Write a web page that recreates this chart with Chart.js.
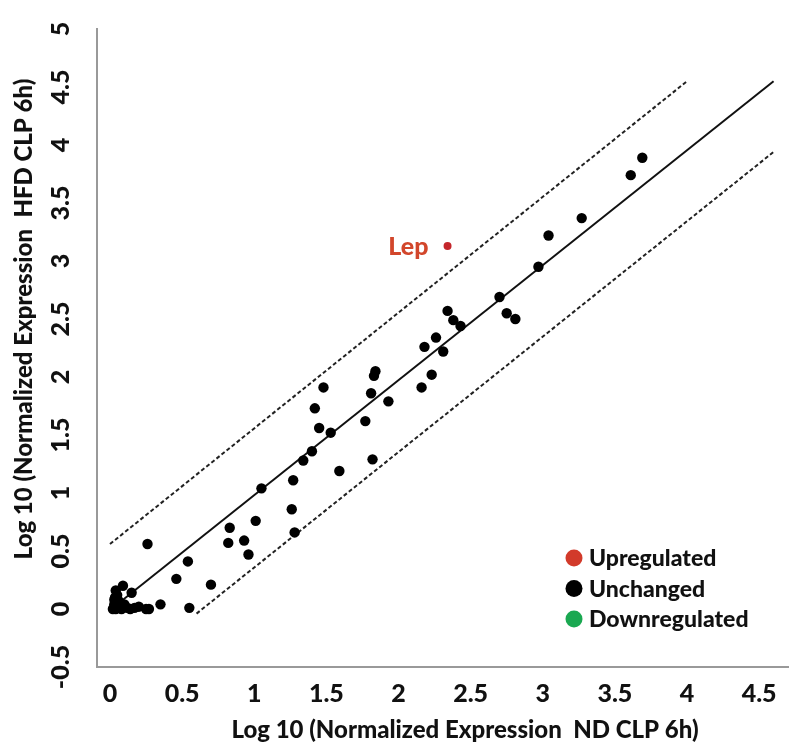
<!DOCTYPE html>
<html>
<head>
<meta charset="utf-8">
<script src="https://cdn.jsdelivr.net/npm/chart.js@4.4.1/dist/chart.umd.min.js"></script>
<style>
  html, body { margin: 0; padding: 0; background: #fff; }
  #wrap { width: 800px; height: 754px; }
</style>
</head>
<body>
<div id="wrap"><canvas id="chart" width="800" height="754"></canvas></div>
<script>
// ===== DATA (log10 normalized expression) =====
const ndUnchanged = [0.09, 0.15, 0.04, 0.035, 0.03, 0.04, 0.08, 0.12, 0.17, 0.20, 0.06,
  0.02, 0.03, 0.05, 0.10, 0.14,
  0.25, 0.27, 0.35, 0.26, 0.46, 0.54, 0.55, 0.70, 0.82, 0.83, 0.93, 0.96, 1.01, 1.05,
  1.26, 1.27, 1.28, 1.34, 1.40, 1.42, 1.45, 1.48, 1.53, 1.59, 1.77, 1.81, 1.82, 1.83,
  1.84, 1.93, 2.16, 2.18, 2.23, 2.26, 2.31, 2.34, 2.38, 2.43, 2.70, 2.75, 2.81, 2.97,
  3.04, 3.27, 3.61, 3.69];
const hfdUnchanged = [0.20, 0.14, 0.16, 0.10, 0.04, 0.00, 0.00, 0.01, 0.01, 0.02, 0.07,
  0.00, 0.08, 0.12, 0.04, 0.00,
  0.00, 0.00, 0.04, 0.56, 0.26, 0.41, 0.01, 0.21, 0.57, 0.70, 0.59, 0.47, 0.76, 1.04,
  0.86, 1.11, 0.66, 1.28, 1.36, 1.73, 1.56, 1.91, 1.52, 1.19, 1.62, 1.86, 1.29, 2.01,
  2.05, 1.79, 1.91, 2.26, 2.02, 2.34, 2.22, 2.57, 2.49, 2.44, 2.69, 2.55, 2.50, 2.95,
  3.22, 3.37, 3.74, 3.89];

const upGenes = ['Lep'];
const ndUp = [2.34];
const hfdUp = [3.13];

const ndDown = [];
const hfdDown = [];

// identity line and 4-fold (0.6 log) thresholds
const identityX = [0.09, 4.60], identityY = [0.08, 4.55];
const upperX = [0.00, 4.00], upperY = [0.56, 4.55];
const lowerX = [0.60, 4.60], lowerY = [-0.04, 3.94];

const xTicks = [0, 0.5, 1, 1.5, 2, 2.5, 3, 3.5, 4, 4.5];
const yTicks = [-0.5, 0, 0.5, 1, 1.5, 2, 2.5, 3, 3.5, 4, 4.5, 5];

const xTitle = 'Log 10 (Normalized Expression  ND CLP 6h)';
const yTitle = 'Log 10 (Normalized Expression  HFD CLP 6h)';

const FONT = 'Lato, "Open Sans", sans-serif';
const W = 900;
const pts = (xs, ys) => xs.map((x, i) => ({ x, y: ys[i] }));

// labels next to highlighted genes, legend, axis titles
const annotate = {
  id: 'annotate',
  afterDatasetsDraw(chart) {
    const { ctx, scales: { x, y } } = chart;
    ctx.save();
    ctx.textBaseline = 'middle';

    // gene names
    ctx.font = W + ' 25px ' + FONT;
    ctx.fillStyle = '#d2462b';
    ctx.textAlign = 'right';
    upGenes.forEach((g, i) => {
      ctx.fillText(g, x.getPixelForValue(ndUp[i]) - 19, y.getPixelForValue(hfdUp[i]) + 1);
    });

    // legend
    ctx.font = W + ' 23px ' + FONT;
    const items = chart.data.datasets.filter(d => d.legendItem);
    ctx.textAlign = 'left';
    items.forEach((d, i) => {
      const lx = 574, ly = 558 + i * 30.5;
      ctx.beginPath();
      ctx.arc(lx, ly, 8.5, 0, Math.PI * 2);
      ctx.fillStyle = d.legendColor;
      ctx.fill();
      ctx.fillStyle = '#111';
      ctx.fillText(d.label, lx + 15, ly + 1);
    });

    // axis titles
    ctx.font = W + ' 24px ' + FONT;
    ctx.fillStyle = '#111';
    ctx.textAlign = 'center';
    ctx.fillText(xTitle, 465, 730);
    ctx.translate(24, 319);
    ctx.rotate(-Math.PI / 2);
    ctx.fillText(yTitle, 0, 0);
    ctx.restore();
  }
};

new Chart(document.getElementById('chart'), {
  type: 'scatter',
  data: {
    datasets: [
      { label: 'Upregulated', data: pts(ndUp, hfdUp), backgroundColor: '#c4262b', borderWidth: 0,
        pointRadius: 4, legendItem: true, legendColor: '#d23a2a', order: 0 },
      { label: 'Unchanged', data: pts(ndUnchanged, hfdUnchanged), backgroundColor: '#000', borderWidth: 0,
        pointRadius: 5.2, legendItem: true, legendColor: '#000', order: 0 },
      { label: 'Downregulated', data: pts(ndDown, hfdDown), backgroundColor: '#1aa851', borderWidth: 0,
        pointRadius: 5, legendItem: true, legendColor: '#1aa851', order: 0 },
      { label: 'y = x', data: pts(identityX, identityY), showLine: true, borderColor: '#111',
        borderWidth: 2, pointRadius: 0, order: 1 },
      { label: '+4 fold', data: pts(upperX, upperY), showLine: true, borderColor: '#222',
        borderWidth: 2, borderDash: [4, 2.5], pointRadius: 0, order: 1 },
      { label: '-4 fold', data: pts(lowerX, lowerY), showLine: true, borderColor: '#222',
        borderWidth: 2, borderDash: [4, 2.5], pointRadius: 0, order: 1 }
    ]
  },
  options: {
    responsive: false,
    animation: false,
    layout: { padding: { left: 0, top: 21, right: 12, bottom: 0 } },
    plugins: { legend: { display: false }, tooltip: { enabled: false } },
    scales: {
      x: {
        type: 'linear', min: -0.09, max: 4.70,
        afterBuildTicks: s => { s.ticks = xTicks.map(v => ({ value: v })); },
        afterFit: s => { s.height = 87; },
        grid: { display: false, drawTicks: false },
        border: { color: '#999', width: 2 },
        ticks: { color: '#111', padding: 12, font: { family: FONT, size: 25, weight: W },
          callback: v => String(v), autoSkip: false, maxRotation: 0 }
      },
      y: {
        type: 'linear', min: -0.5, max: 5,
        afterBuildTicks: s => { s.ticks = yTicks.map(v => ({ value: v })); },
        afterFit: s => { s.width = 97; },
        grid: { display: false, drawTicks: false },
        border: { color: '#999', width: 2 },
        ticks: { color: '#111', padding: 14, crossAlign: 'center', minRotation: 90, maxRotation: 90,
          font: { family: FONT, size: 25, weight: W }, callback: v => String(v), autoSkip: false }
      }
    }
  },
  plugins: [annotate]
});
</script>
</body>
</html>
